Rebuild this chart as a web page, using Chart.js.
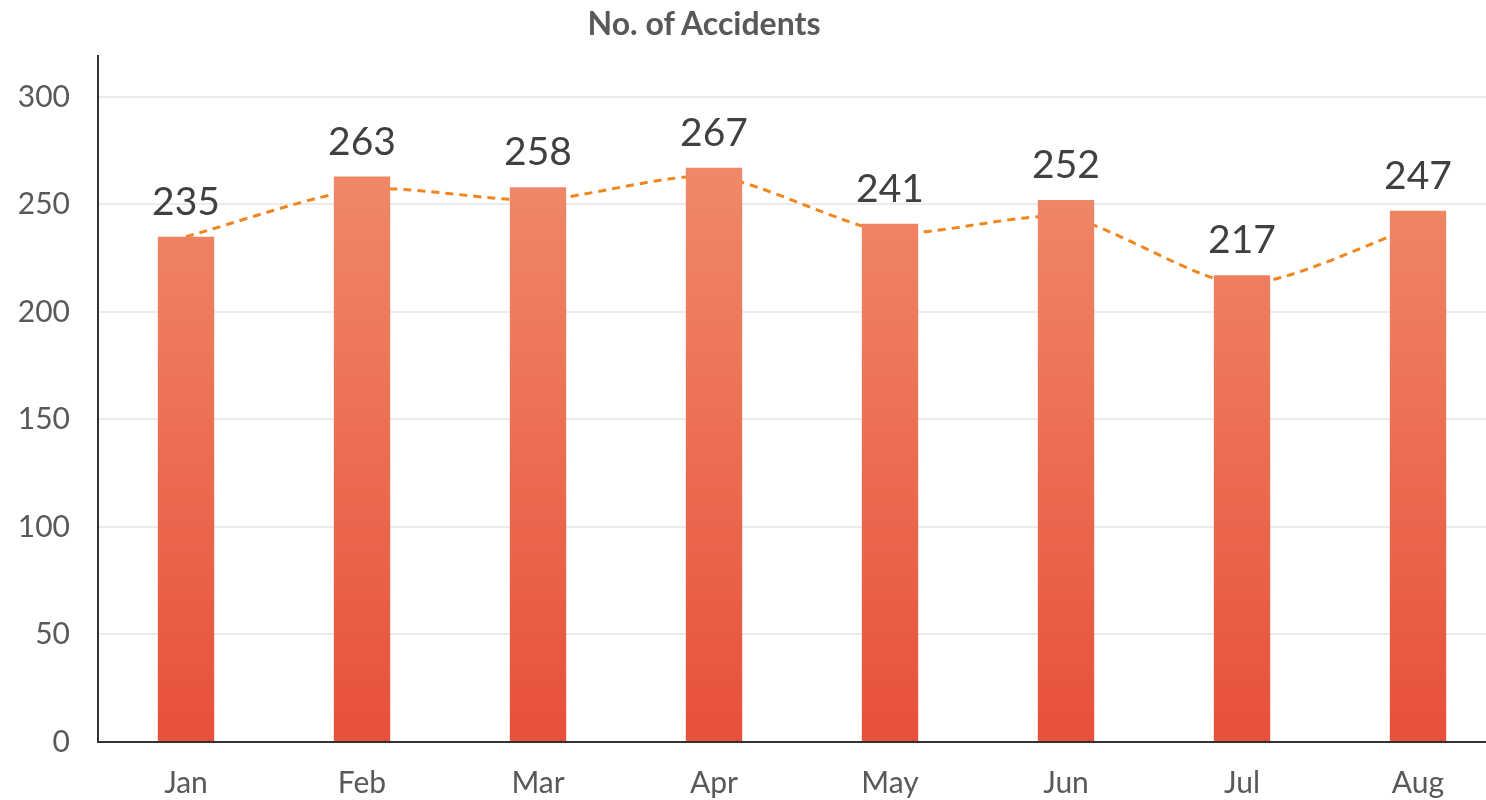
<!DOCTYPE html>
<html>
<head>
<meta charset="utf-8">
<script src="https://cdn.jsdelivr.net/npm/chart.js@4/dist/chart.umd.min.js"></script>
<style>
  html, body { margin:0; padding:0; background:#fff; overflow:hidden; }
  #wrap { position:relative; width:1486px; height:800px; overflow:hidden; }
  #title { position:absolute; left:0; width:1408px; top:3px; text-align:center;
           font-family:Lato, sans-serif; font-weight:bold; font-size:32px; color:#595959; }
</style>
</head>
<body>
<div id="wrap">
  <canvas id="chart" width="1506" height="800"></canvas>
  <div id="title">No. of Accidents</div>
</div>
<script>
const months = ['Jan','Feb','Mar','Apr','May','Jun','Jul','Aug'];
const accidents = [235, 263, 258, 267, 241, 252, 217, 247];
const trend = [235, 257, 252, 263, 237, 244, 213, 240];

const ctx = document.getElementById('chart').getContext('2d');

// value labels above bars
const barLabels = {
    id:'barLabels',
    afterDatasetsDraw(chart){
        const meta = chart.getDatasetMeta(1);
        const c = chart.ctx;
        c.save();
        c.font = '39px Lato, sans-serif';
        c.fillStyle = '#404040';
        c.textAlign = 'center';
        c.textBaseline = 'bottom';
        meta.data.forEach((bar,i)=>{
            c.fillText(accidents[i], bar.x, bar.y - 15);
        });
        c.restore();
    }
};

function barGradient(context){
    const area = context.chart.chartArea;
    if(!area) return '#ec6a50';
    const y = context.chart.scales.y;
    const g = context.chart.ctx.createLinearGradient(0, y.getPixelForValue(267), 0, y.getPixelForValue(0));
    g.addColorStop(0, '#f08968');
    g.addColorStop(1, '#e8503b');
    return g;
}

new Chart(ctx,{
    data:{
        labels:months,
        datasets:[
            { type:'line', data:trend, borderColor:'#f0861d', borderWidth:3, borderDash:[8,6],
              pointRadius:0, tension:0.25, fill:false, order:2 },
            { type:'bar', data:accidents, backgroundColor:barGradient,
              barPercentage:0.32, categoryPercentage:1, order:1 }
        ]
    },
    options:{
        responsive:false,
        animation:false,
        layout:{ padding:{ top:56, right:0, left:0, bottom:0 } },
        plugins:{ legend:{display:false}, tooltip:{enabled:false} },
        scales:{
            x:{
                grid:{ display:false, drawTicks:false },
                border:{ color:'#333', width:2 },
                ticks:{ font:{family:'Lato', size:30}, color:'#595959', padding:23 },
                afterFit(s){ s.height = 58; }
            },
            y:{
                min:0, max:319,
                grid:{ color:'#ebebeb', lineWidth:2, drawTicks:false },
                border:{ color:'#333', width:2 },
                ticks:{ stepSize:50, font:{family:'Lato', size:30}, color:'#595959', padding:28 },
                afterBuildTicks(s){ s.ticks = s.ticks.filter(t=>t.value % 50 === 0); },
                afterFit(s){ s.width = 98; }
            }
        }
    },
    plugins:[barLabels]
});
</script>
</body>
</html>
